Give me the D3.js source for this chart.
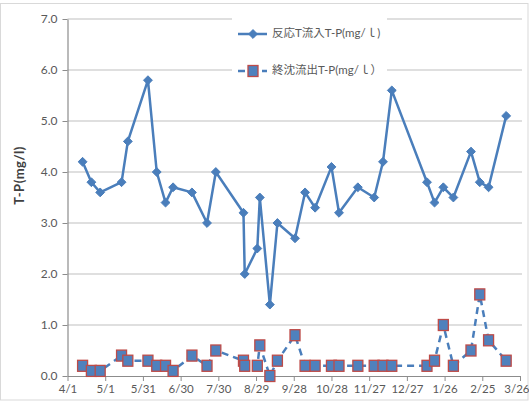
<!DOCTYPE html>
<html>
<head>
<meta charset="utf-8">
<script src="https://cdn.jsdelivr.net/npm/d3@7"></script>
<style>
  html, body { margin: 0; padding: 0; background: #fff; }
  svg { display: block; }
  text { font-family: Lato, "Liberation Sans", "Noto Sans CJK JP", sans-serif; }
</style>
</head>
<body>
<svg id="chart" width="529" height="401"></svg>
<script>
// Sampling dates (April 2011 – March 2012)
const sampleDates = [
  "2011-04-13","2011-04-20","2011-04-27","2011-05-14","2011-05-19","2011-06-04",
  "2011-06-11","2011-06-18","2011-06-24","2011-07-09","2011-07-21","2011-07-28",
  "2011-08-19","2011-08-20","2011-08-30","2011-09-01","2011-09-09","2011-09-15",
  "2011-09-29","2011-10-07","2011-10-15","2011-10-28","2011-11-03","2011-11-18",
  "2011-12-01","2011-12-08","2011-12-15","2012-01-12","2012-01-18","2012-01-25",
  "2012-02-02","2012-02-16","2012-02-23","2012-03-01","2012-03-15"
];
// Reactor inflow T-P (mg/l)
const inflowTP = [
  4.2, 3.8, 3.6, 3.8, 4.6, 5.8, 4.0, 3.4, 3.7, 3.6, 3.0, 4.0,
  3.2, 2.0, 2.5, 3.5, 1.4, 3.0, 2.7, 3.6, 3.3, 4.1, 3.2, 3.7,
  3.5, 4.2, 5.6, 3.8, 3.4, 3.7, 3.5, 4.4, 3.8, 3.7, 5.1
];
// Final settling tank effluent T-P (mg/l)
const effluentTP = [
  0.2, 0.1, 0.1, 0.4, 0.3, 0.3, 0.2, 0.2, 0.1, 0.4, 0.2, 0.5,
  0.3, 0.2, 0.2, 0.6, 0.0, 0.3, 0.8, 0.2, 0.2, 0.2, 0.2, 0.2,
  0.2, 0.2, 0.2, 0.2, 0.3, 1.0, 0.2, 0.5, 1.6, 0.7, 0.3
];
const seriesNames = ["反応T流入T-P(mg/ｌ)", "終沈流出T-P(mg/ｌ）"];
const yTicks = [0, 1, 2, 3, 4, 5, 6, 7];
const axisStart = "2011-04-01";
const axisEnd = "2012-03-26";
const tickStepDays = 30;
const yTitle = "T-P(mg/l)";

const parse = d3.utcParse("%Y-%m-%d");
const dates = sampleDates.map(parse);
const start = parse(axisStart), end = parse(axisEnd);

const svg = d3.select("#chart");
const W = 529, H = 401;
const plot = { left: 67.5, right: 520, top: 19, bottom: 376 };

const blue = "#4a7ebb";
const sqFill = "#4f81bd";
const sqStroke = "#be4b48";
const grid = "#d4d4d4";
const axisCol = "#8c8c8c";
const textCol = "#595959";

// chart frame
svg.append("rect").attr("x", 0.5).attr("y", 3.5).attr("width", W - 1.5).attr("height", H - 4.5)
  .attr("fill", "#fff").attr("stroke", "#d9d9d9").attr("stroke-width", 1);

const x = d3.scaleUtc().domain([start, end]).range([plot.left, plot.right]);
const y = d3.scaleLinear().domain([0, 7]).range([plot.bottom, plot.top]);

// horizontal gridlines
svg.append("g").selectAll("line").data(yTicks.filter(v => v > 0)).join("line")
  .attr("x1", plot.left).attr("x2", plot.right + 2)
  .attr("y1", d => y(d)).attr("y2", d => y(d))
  .attr("stroke", grid).attr("stroke-width", 1.5);

// y axis
const yAxis = d3.axisLeft(y).tickValues(yTicks).tickFormat(d3.format(".1f"))
  .tickSizeInner(5).tickSizeOuter(0).tickPadding(5);
const gy = svg.append("g").attr("transform", `translate(${plot.left},0)`).call(yAxis);
gy.select(".domain").attr("stroke", axisCol).attr("stroke-width", 1.2);
gy.selectAll(".tick line").attr("stroke", axisCol);
gy.selectAll("text").attr("fill", textCol).style("font-size", "12px");

// x axis
const xTickVals = d3.range(0, 361, tickStepDays).map(d => d3.utcDay.offset(start, d));
const xAxis = d3.axisBottom(x).tickValues(xTickVals).tickFormat(d3.utcFormat("%-m/%-d"))
  .tickSizeInner(5).tickSizeOuter(0).tickPadding(4);
const gx = svg.append("g").attr("transform", `translate(0,${plot.bottom})`).call(xAxis);
gx.select(".domain").attr("stroke", axisCol).attr("stroke-width", 1.2);
gx.selectAll(".tick line").attr("stroke", axisCol);
gx.selectAll("text").attr("fill", textCol).style("font-size", "11.5px");
// keep the last date label inside the frame
gx.selectAll(".tick:last-of-type text").attr("text-anchor", "end").attr("dx", "9");

// y axis title
svg.append("text")
  .attr("transform", `translate(21,${(plot.top + plot.bottom) / 2 - 22}) rotate(-90)`)
  .attr("text-anchor", "middle").attr("dominant-baseline", "middle")
  .attr("fill", "#404040").style("font-size", "13px").style("font-weight", "bold")
  .style("letter-spacing", "0.5px")
  .text(yTitle);

const inflow = dates.map((d, i) => ({ d, v: inflowTP[i] }));
const effluent = dates.map((d, i) => ({ d, v: effluentTP[i] }));
const line = d3.line().x(p => x(p.d)).y(p => y(p.v));

const diamond = d3.symbol().type(d3.symbolDiamond2).size(50);

// inflow series
svg.append("path").datum(inflow).attr("d", line)
  .attr("fill", "none").attr("stroke", blue).attr("stroke-width", 2.5).attr("stroke-linejoin", "round");
svg.append("g").selectAll("path").data(inflow).join("path")
  .attr("transform", p => `translate(${x(p.d)},${y(p.v)})`)
  .attr("d", diamond).attr("fill", blue).attr("stroke", blue).attr("stroke-width", 1);

// effluent series
svg.append("path").datum(effluent).attr("d", line)
  .attr("fill", "none").attr("stroke", blue).attr("stroke-width", 2.5)
  .attr("stroke-dasharray", "7,5");
const sq = 10;
svg.append("g").selectAll("rect").data(effluent).join("rect")
  .attr("x", p => x(p.d) - sq / 2).attr("y", p => y(p.v) - sq / 2 - 0.5)
  .attr("width", sq).attr("height", sq + 1)
  .attr("fill", sqFill).attr("stroke", sqStroke).attr("stroke-width", 1.3);

// legend
const lg = svg.append("g");
lg.append("rect").attr("x", 232).attr("y", 13).attr("width", 155).attr("height", 74).attr("fill", "#fff");
const legendRows = [
  { name: seriesNames[0], y: 34, kind: "diamond" },
  { name: seriesNames[1], y: 71, kind: "square" }
];
legendRows.forEach(r => {
  const g = lg.append("g");
  g.append("line").attr("x1", 238).attr("x2", 267).attr("y1", r.y).attr("y2", r.y)
    .attr("stroke", blue).attr("stroke-width", 2.5)
    .attr("stroke-dasharray", r.kind === "square" ? "7,5" : null);
  if (r.kind === "diamond") {
    g.append("path").attr("transform", `translate(253,${r.y})`).attr("d", diamond)
      .attr("fill", blue).attr("stroke", blue);
  } else {
    g.append("rect").attr("x", 253 - sq / 2).attr("y", r.y - sq / 2 - 0.5)
      .attr("width", sq).attr("height", sq + 1)
      .attr("fill", sqFill).attr("stroke", sqStroke).attr("stroke-width", 1.3);
  }
  g.append("text").attr("x", 272).attr("y", r.y).attr("dominant-baseline", "middle")
    .attr("fill", textCol).style("font-size", "11.5px").text(r.name);
});
</script>
</body>
</html>
